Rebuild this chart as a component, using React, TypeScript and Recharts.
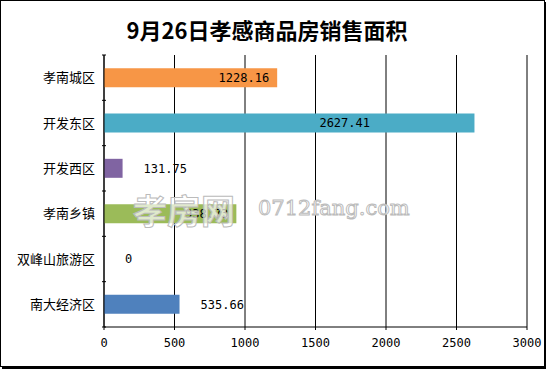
import { BarChart, Bar, XAxis, YAxis, CartesianGrid, Cell, LabelList } from "recharts";

const districts = ["孝南城区", "开发东区", "开发西区", "孝南乡镇", "双峰山旅游区", "南大经济区"];
const areas = [1228.16, 2627.41, 131.75, 938.73, 0, 535.66];
const barColors = ["#F79646", "#4BACC6", "#8064A2", "#9BBB59", "#4F81BD", "#4F81BD"];
const xTicks = [0, 500, 1000, 1500, 2000, 2500, 3000];

const data = districts.map((name, i) => ({ name, area: areas[i], label: String(areas[i]) }));

const W = 546;
const H = 369;
const PLOT_TOP = 55;
const PLOT_BOTTOM = 327;
const HALF_BAND = (PLOT_BOTTOM - PLOT_TOP) / districts.length / 2;

const CategoryTick = (props: any) => {
  const { x, y, payload, index } = props;
  const last = index === districts.length - 1;
  return (
    <g>
      <line x1={x + 6} x2={x + 10} y1={y - HALF_BAND} y2={y - HALF_BAND} stroke="#000" />
      {last && <line x1={x + 6} x2={x + 10} y1={y + HALF_BAND} y2={y + HALF_BAND} stroke="#000" />}
      <text
        x={x - 1}
        y={y}
        dy="0.36em"
        textAnchor="end"
        fontSize={13}
        fontFamily="'Noto Sans CJK SC', sans-serif"
        fill="#000"
      >
        {payload.value}
      </text>
    </g>
  );
};

const renderValueLabel = (props: any) => {
  const { x, y, width, height, value } = props;
  const w = Number(width) || 0;
  let tx: number;
  let anchor: "start" | "end";
  if (w < 100) {
    tx = Number(x) + w + 21;
    anchor = "start";
  } else {
    tx = Math.min(Number(x) + w - 8, Number(x) + 266);
    anchor = "end";
  }
  return (
    <text
      key={`${x}-${y}`}
      x={tx}
      y={Number(y) + Number(height) / 2}
      dy="0.35em"
      textAnchor={anchor}
      fontSize={12}
      fontFamily="'DejaVu Sans Mono', monospace"
      fill="#000"
    >
      {value}
    </text>
  );
};

// zero-value bars keep a hair-thin rect so their "0" label still renders
const keepZeroBar = (v: number) => (v === 0 ? 0.01 : 0);

export default function App() {
  return (
    <div
      style={{
        position: "absolute",
        left: 0,
        top: 0,
        width: W,
        height: H,
        background: "#fff",
      }}
    >
      <div
        style={{
          position: "absolute",
          left: 0,
          top: 0,
          width: W - 3,
          height: H - 4,
          border: "1px solid #000",
          boxShadow: "2px 2px 0 #000",
        }}
      />
      <div
        style={{
          position: "absolute",
          left: 0,
          top: 14,
          width: W - 12,
          textAlign: "center",
          fontFamily: "'Noto Sans CJK SC', sans-serif",
          fontWeight: 700,
          fontSize: 22,
          lineHeight: "30px",
          color: "#000",
        }}
      >
        9月26日孝感商品房销售面积
      </div>
      <div style={{ position: "absolute", left: 0, top: 0 }}>
        <BarChart
          width={W}
          height={H}
          data={data}
          layout="vertical"
          margin={{ top: PLOT_TOP, right: 19, bottom: 0, left: 0 }}
          barCategoryGap="29%"
        >
          <CartesianGrid horizontal={false} vertical stroke="#000" />
          <XAxis
            type="number"
            domain={[0, 3000]}
            ticks={xTicks}
            interval={0}
            height={H - PLOT_BOTTOM}
            tickSize={3}
            tickMargin={8}
            axisLine={{ stroke: "#000" }}
            tickLine={{ stroke: "#000" }}
            tick={{ fill: "#000", fontSize: 12, fontFamily: "'DejaVu Sans Mono', monospace" }}
          />
          <YAxis
            type="category"
            dataKey="name"
            width={104}
            axisLine={{ stroke: "#000" }}
            tickLine={false}
            tick={<CategoryTick />}
            interval={0}
          />
          <Bar dataKey="area" isAnimationActive={false} minPointSize={keepZeroBar as any}>
            {data.map((d, i) => (
              <Cell key={d.name} fill={barColors[i]} />
            ))}
            <LabelList dataKey="label" content={renderValueLabel} />
          </Bar>
        </BarChart>
      </div>
      <svg
        width={W}
        height={H}
        style={{ position: "absolute", left: 0, top: 0, pointerEvents: "none" }}
      >
        <text
          x={133}
          y={224}
          fontSize={34}
          fontWeight={700}
          fontFamily="'Noto Sans CJK SC', sans-serif"
          fill="#fff"
          fillOpacity={0.7}
          stroke="#bbb"
          strokeWidth={1}
        >
          孝房网
        </text>
        <text
          x={258}
          y={215}
          fontSize={21}
          fontFamily="'DejaVu Serif', serif"
          fill="#fff"
          stroke="#bbb"
          strokeWidth={1}
        >
          0712fang.com
        </text>
      </svg>
    </div>
  );
}
